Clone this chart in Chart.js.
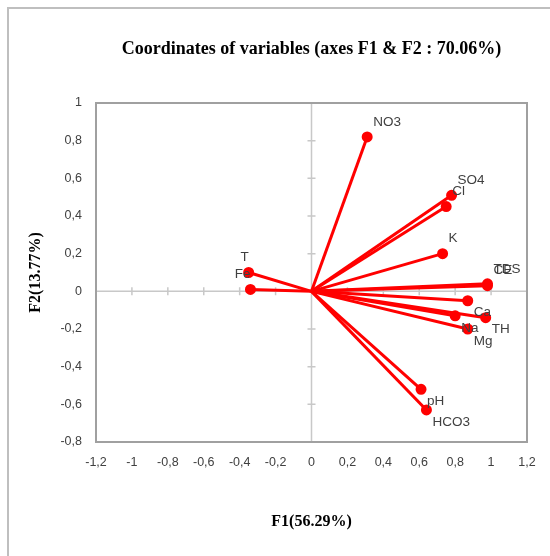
<!DOCTYPE html>
<html>
<head>
<meta charset="utf-8">
<script src="https://cdn.jsdelivr.net/npm/chart.js@4/dist/chart.umd.min.js"></script>
<style>
  html, body { margin: 0; padding: 0; background: #ffffff; }
  #wrap { position: relative; width: 550px; height: 556px; }
</style>
</head>
<body>
<div id="wrap"><canvas id="pca" width="550" height="556"></canvas></div>
<script>
// Variables and their coordinates on F1 / F2
const variables = ['NO3', 'SO4', 'Cl', 'K', 'CE', 'TDS', 'Ca', 'TH', 'Na', 'Mg', 'pH', 'HCO3', 'T', 'Fe'];
const f1 = [0.31, 0.78, 0.75, 0.73, 0.98, 0.98, 0.87, 0.97, 0.80, 0.87, 0.61, 0.64, -0.35, -0.34];
const f2 = [0.82, 0.51, 0.45, 0.20, 0.03, 0.04, -0.05, -0.14, -0.13, -0.20, -0.52, -0.63, 0.10, 0.01];

const xTicks = [-1.2, -1, -0.8, -0.6, -0.4, -0.2, 0, 0.2, 0.4, 0.6, 0.8, 1, 1.2];
const yTicks = [-0.8, -0.6, -0.4, -0.2, 0, 0.2, 0.4, 0.6, 0.8, 1];

const RED = '#ff0000';

// une droite origine -> point par variable
const datasets = variables.map((name, i) => ({
    label: name,
    data: [{ x: 0, y: 0 }, { x: f1[i], y: f2[i] }],
    showLine: true,
    borderColor: RED,
    borderWidth: 3,
    backgroundColor: RED,
    pointBackgroundColor: RED,
    pointBorderColor: RED,
    pointRadius: [0, 4],
    pointHoverRadius: [0, 4]
}));

const fmt = v => {
    const r = Math.round(v * 10) / 10;
    return String(r).replace('.', ',');
};

// fond, cadre de la page, cadre du graphique et axes a zero
const framePlugin = {
    id: 'frame',
    beforeDraw(chart) {
        const ctx = chart.ctx;
        ctx.save();
        ctx.fillStyle = '#ffffff';
        ctx.fillRect(0, 0, chart.width, chart.height);
        ctx.strokeStyle = '#bfbfbf';
        ctx.lineWidth = 2;
        ctx.beginPath();
        ctx.moveTo(8, chart.height);
        ctx.lineTo(8, 8);
        ctx.lineTo(chart.width, 8);
        ctx.stroke();
        ctx.restore();
    },
    beforeDatasetsDraw(chart) {
        const { ctx, chartArea: a, scales: { x, y } } = chart;
        const x0 = x.getPixelForValue(0);
        const y0 = y.getPixelForValue(0);
        ctx.save();
        ctx.strokeStyle = '#c8c8c8';
        ctx.lineWidth = 1.5;
        ctx.beginPath();
        ctx.moveTo(x0, a.top); ctx.lineTo(x0, a.bottom);
        ctx.moveTo(a.left, y0); ctx.lineTo(a.right, y0);
        yTicks.forEach(v => {
            const py = y.getPixelForValue(v);
            ctx.moveTo(x0 - 4, py); ctx.lineTo(x0 + 4, py);
        });
        xTicks.forEach(v => {
            const px = x.getPixelForValue(v);
            ctx.moveTo(px, y0 - 4); ctx.lineTo(px, y0 + 4);
        });
        ctx.stroke();
        ctx.strokeStyle = '#a0a0a0';
        ctx.lineWidth = 2;
        ctx.strokeRect(a.left, a.top, a.right - a.left, a.bottom - a.top);
        ctx.restore();
    }
};

// etiquettes des variables
const labelPlugin = {
    id: 'varLabels',
    afterDatasetsDraw(chart) {
        const { ctx, scales: { x, y } } = chart;
        ctx.save();
        ctx.font = "13.5px 'Liberation Sans Narrow', 'Liberation Sans', Arial, sans-serif";
        ctx.fillStyle = '#404040';
        ctx.textBaseline = 'middle';
        variables.forEach((name, i) => {
            const px = x.getPixelForValue(f1[i]);
            const py = y.getPixelForValue(f2[i]);
            const dy = f2[i] >= 0 ? -15 : 12;
            if (f1[i] >= 0) {
                ctx.textAlign = 'left';
                ctx.fillText(name, px + 6, py + dy);
            } else {
                ctx.textAlign = 'right';
                ctx.fillText(name, px, py + dy);
            }
        });
        ctx.restore();
    }
};

const tickFont = { size: 12.5, family: "'Liberation Sans Narrow', 'Liberation Sans', Arial, sans-serif" };

new Chart(document.getElementById('pca'), {
    type: 'scatter',
    data: { datasets: datasets },
    options: {
        responsive: false,
        animation: false,
        layout: { padding: { left: 0, right: 23, top: 0, bottom: 0 } },
        scales: {
            x: {
                type: 'linear',
                min: -1.2,
                max: 1.2,
                afterBuildTicks: s => { s.ticks = xTicks.map(v => ({ value: v })); },
                afterFit: s => { s.height = 114; },
                grid: { display: false, drawTicks: false },
                border: { display: false },
                ticks: { padding: 13, color: '#404040', font: tickFont, callback: fmt, maxRotation: 0 },
                title: {
                    display: true,
                    text: 'F1(56.29%)',
                    color: '#000000',
                    font: { size: 16, weight: 'bold', family: "'Liberation Serif', 'Times New Roman', serif" },
                    padding: { top: 0, bottom: 25 }
                }
            },
            y: {
                type: 'linear',
                min: -0.8,
                max: 1,
                afterBuildTicks: s => { s.ticks = yTicks.map(v => ({ value: v })); },
                afterFit: s => { s.width = 96; },
                grid: { display: false, drawTicks: false },
                border: { display: false },
                ticks: { padding: 14, color: '#404040', font: tickFont, callback: fmt },
                title: {
                    display: true,
                    text: 'F2(13.77%)',
                    color: '#000000',
                    font: { size: 16, weight: 'bold', family: "'Liberation Serif', 'Times New Roman', serif" },
                    padding: { top: 26, bottom: 0 }
                }
            }
        },
        plugins: {
            legend: { display: false },
            tooltip: { enabled: false },
            title: {
                display: true,
                fullSize: false,
                text: 'Coordinates of variables (axes F1 & F2 : 70.06%)',
                color: '#000000',
                font: { size: 18, weight: 'bold', family: "'Liberation Serif', 'Times New Roman', serif" },
                padding: { top: 39, bottom: 42.4 }
            }
        }
    },
    plugins: [framePlugin, labelPlugin]
});
</script>
</body>
</html>
